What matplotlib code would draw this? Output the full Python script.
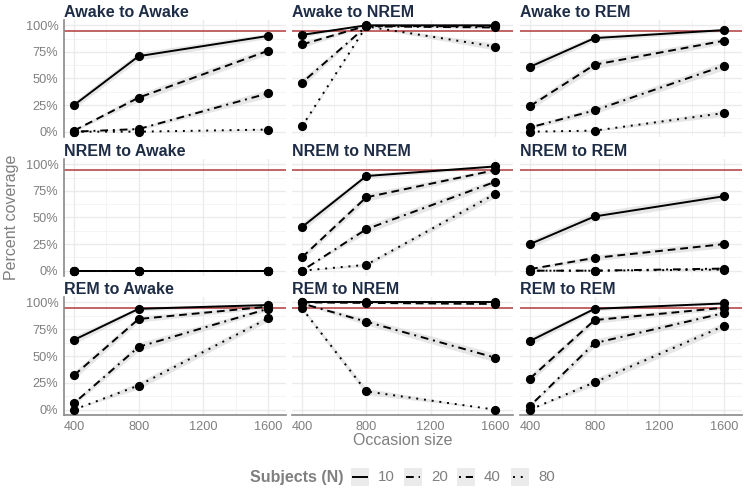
import matplotlib.pyplot as plt
import numpy as np
from matplotlib.patches import Rectangle
from matplotlib.lines import Line2D

plt.rcParams['font.family'] = ['Liberation Sans', 'DejaVu Sans']

# occasion sizes on the x axis
sizes = [400, 800, 1600]
subjects = ['10', '20', '40', '80']
panel_titles = ['Awake to Awake', 'Awake to NREM', 'Awake to REM',
                'NREM to Awake', 'NREM to NREM', 'NREM to REM',
                'REM to Awake', 'REM to NREM', 'REM to REM']

# coverage per panel: one row per N (10, 20, 40, 80), one value per occasion size
awake_awake = [[0.25, 0.71, 0.90], [0.01, 0.32, 0.76], [0.0, 0.025, 0.36], [0.0, 0.0, 0.02]]
awake_nrem = [[0.91, 1.0, 1.0], [0.82, 0.995, 0.99], [0.46, 0.99, 0.98], [0.05, 0.99, 0.80]]
awake_rem = [[0.61, 0.88, 0.955], [0.24, 0.63, 0.855], [0.04, 0.20, 0.62], [0.0, 0.01, 0.175]]
nrem_awake = [[0.0, 0.0, 0.0], [0.0, 0.0, 0.0], [0.0, 0.0, 0.0], [0.0, 0.0, 0.0]]
nrem_nrem = [[0.41, 0.89, 0.98], [0.125, 0.69, 0.945], [0.0, 0.39, 0.835], [0.0, 0.055, 0.72]]
nrem_rem = [[0.25, 0.51, 0.70], [0.015, 0.12, 0.25], [0.0, 0.0, 0.02], [0.0, 0.0, 0.01]]
rem_awake = [[0.65, 0.94, 0.975], [0.32, 0.845, 0.96], [0.06, 0.585, 0.94], [0.0, 0.225, 0.85]]
rem_nrem = [[1.0, 1.0, 1.0], [1.0, 0.995, 0.985], [0.99, 0.82, 0.485], [0.945, 0.17, 0.0]]
rem_rem = [[0.64, 0.94, 0.99], [0.29, 0.835, 0.95], [0.035, 0.62, 0.90], [0.0, 0.255, 0.78]]

panel_data = [awake_awake, awake_nrem, awake_rem,
              nrem_awake, nrem_nrem, nrem_rem,
              rem_awake, rem_nrem, rem_rem]

target = 0.95
n_reps = 600  # replications behind the grey bands

y_ticks = [0, 0.25, 0.5, 0.75, 1.0]
y_tick_labels = ['0%', '25%', '50%', '75%', '100%']
x_ticks = [400, 800, 1200, 1600]

line_styles = ['-', (0, (4, 2.5)), (0, (1, 2.5, 4, 2.5)), (0, (1, 3))]

W, H = 747, 498
fig = plt.figure(figsize=(W / 100, H / 100), dpi=100)


def box(l, t, r, b):
    return [l / W, 1 - b / H, (r - l) / W, (b - t) / H]


cols = [(64, 286), (292, 513), (520, 742)]
rows = [(20, 137), (159, 276), (297, 415)]
axis_grey = '#8a8a8a'
text_grey = '#7f7f7f'

for i, (title, data) in enumerate(zip(panel_titles, panel_data)):
    r, c = divmod(i, 3)
    ax = fig.add_axes(box(cols[c][0], rows[r][0], cols[c][1], rows[r][1]))
    ax.set_xlim(338, 1712)
    ax.set_ylim(-0.05, 1.05)
    ax.set_xticks(x_ticks)
    ax.set_xticks([600, 1000, 1400], minor=True)
    ax.set_yticks(y_ticks)
    ax.set_yticklabels(y_tick_labels)
    ax.set_yticks([0.125, 0.375, 0.625, 0.875], minor=True)
    ax.grid(which='major', color='#ebebeb', lw=1.0)
    ax.grid(which='minor', color='#f3f3f3', lw=0.6)
    ax.set_axisbelow(True)
    for s in ax.spines.values():
        s.set_visible(False)
    if c == 0:
        ax.spines['left'].set_visible(True)
        ax.spines['left'].set_color(axis_grey)
        ax.spines['left'].set_linewidth(1.2)
    if r == 2:
        ax.spines['bottom'].set_visible(True)
        ax.spines['bottom'].set_color(axis_grey)
        ax.spines['bottom'].set_linewidth(1.2)
    ax.tick_params(which='both', length=0, labelsize=9.2, colors=text_grey, pad=4)
    ax.tick_params(labelleft=(c == 0), labelbottom=(r == 2))

    ax.axhline(target, color='#b23b3b', lw=1.1, zorder=2)
    for k, vals in enumerate(data):
        p = np.array(vals)
        half = 1.96 * np.sqrt(p * (1 - p) / n_reps)
        ax.fill_between(sizes, p - half, p + half, color='#d4d4d4', alpha=0.55,
                        lw=0, zorder=1)
        ax.plot(sizes, p, color='black', lw=1.4, ls=line_styles[k], zorder=3,
                marker='o', markersize=5.6, clip_on=False)
    ax.set_title(title, loc='left', fontsize=11.5, fontweight='bold',
                 color='#1e2d45', pad=2.5)

fig.text(12 / W, 1 - 217 / H, 'Percent coverage', rotation=90, ha='center',
         va='center', fontsize=11.5, color=text_grey)
fig.text(403 / W, 1 - 440 / H, 'Occasion size', ha='center', va='center',
         fontsize=11.5, color=text_grey)

# legend drawn in pixel coordinates
lax = fig.add_axes([0, 0, 1, 1])
lax.set_xlim(0, W)
lax.set_ylim(H, 0)
lax.axis('off')
lax.text(344, 477, 'Subjects (N)', ha='right', va='center', fontsize=11.5,
         fontweight='bold', color=text_grey)
key_x = [351, 404, 457, 511]
for k, lab in enumerate(subjects):
    x0 = key_x[k]
    lax.add_patch(Rectangle((x0, 467.5), 17.5, 18.5, facecolor='#ebebeb', lw=0))
    lax.add_line(Line2D([x0 + 1.5, x0 + 16], [476.7, 476.7], color='black', lw=1.4,
                        ls=line_styles[k]))
    lax.text(x0 + 27, 477, lab, ha='left', va='center', fontsize=10.8, color=text_grey)

fig.savefig('out.png', dpi=100)
